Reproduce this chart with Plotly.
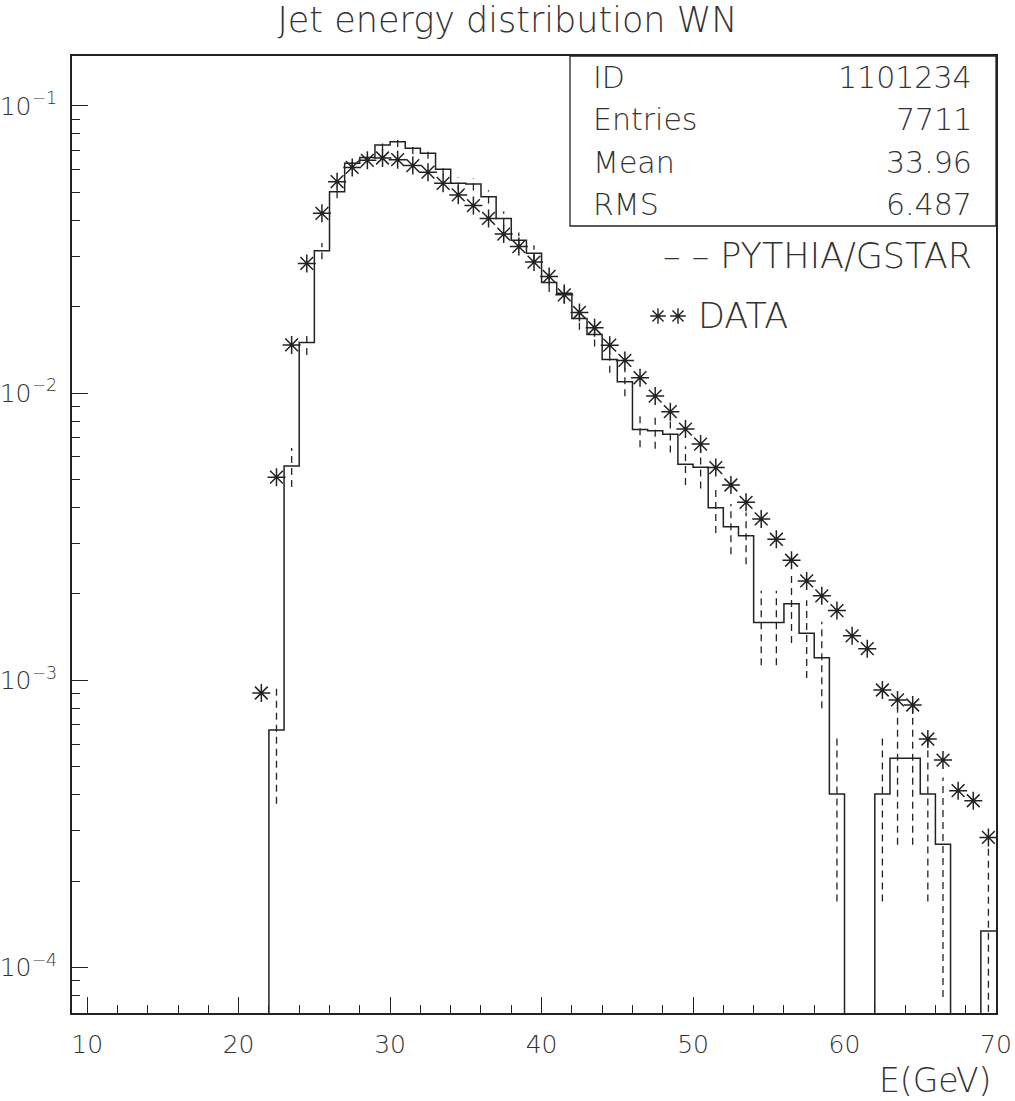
import plotly.graph_objects as go

# ---------------- data ----------------
# MC (PYTHIA/GSTAR) histogram: 1 GeV bins, low edges 22..69
mc_bin_low = list(range(22, 70))
mc_values = [
    6.72e-4, 5.58e-3, 0.0150, 0.0313, 0.0503, 0.0632, 0.0662, 0.0731,
    0.0751, 0.0712, 0.0685, 0.0602, 0.0538, 0.0535, 0.0483, 0.0406,
    0.0341, 0.0307, 0.0243, 0.0223, 0.0182, 0.0160, 0.0131, 0.01097,
    0.00748, 0.00740, 0.00720, 0.00566, 0.00552, 0.00399, 0.00343, 0.00319,
    0.00159, 0.00159, 0.00185, 0.00146, 0.00120, 0.000402, 0.0, 0.0,
    0.000402, 0.000536, 0.000536, 0.000402, 0.000269, 0.0, 0.0, 0.000134,
]
mc_errors = [
    3.0e-4, 8.65e-4, 0.00142, 0.00205, 0.00260, 0.00291, 0.00298, 0.00313,
    0.00317, 0.00309, 0.00303, 0.00284, 0.00269, 0.00268, 0.00254, 0.00233,
    0.00214, 0.00203, 0.00181, 0.00173, 0.00156, 0.00147, 0.00132, 0.00121,
    0.00100, 0.00100, 0.00098, 0.00087, 0.00086, 0.00073, 0.00068, 0.00065,
    0.00046, 0.00046, 0.00050, 0.00044, 0.00040, 0.000232, 0.0, 0.0,
    0.000232, 0.000268, 0.000268, 0.000232, 0.00019, 0.0, 0.0, 0.000134,
]

# DATA points at bin centres 21.5 .. 69.5
data_centers = [21.5 + i for i in range(49)]
data_values = [
    9.04e-4, 5.10e-3, 0.01472, 0.0283, 0.0423, 0.0545, 0.0611, 0.0647,
    0.0659, 0.0650, 0.0620, 0.0588, 0.0538, 0.0490, 0.0450, 0.0406,
    0.0358, 0.0324, 0.0286, 0.0255, 0.0220, 0.0191, 0.0169, 0.0147,
    0.0130, 0.01132, 0.00977, 0.00862, 0.00750, 0.00665, 0.00551, 0.00479,
    0.00417, 0.00365, 0.00310, 0.00262, 0.00222, 0.00197, 0.00175, 0.00143,
    0.00129, 0.000926, 0.000855, 0.000821, 0.000625, 0.000528, 0.000413, 0.000381,
    0.000284,
]

stat_labels = ["ID", "Entries", "Mean", "RMS"]
stat_values = ["1101234", "7711", "33.96", "6.487"]

title_text = "Jet energy distribution WN"
x_title = "E(GeV)"
legend_mc = "– – PYTHIA/GSTAR"
legend_data = "DATA"

x_ticks = [10, 20, 30, 40, 50, 60, 70]
y_ticks = [1e-4, 1e-3, 1e-2, 1e-1]
y_ticktext = ["10<sup>−4</sup>", "10<sup>−3</sup>", "10<sup>−2</sup>", "10<sup>−1</sup>"]

# ---------------- style ----------------
INK = "#222222"
TXT = "#333333"
FONT = "DejaVu Sans"
W, H = 1015, 1101
L, R, T, B = 72, 996, 56, 1013
FLOOR = 1e-9  # stands in for empty bins on the log axis (off-scale)


def px_x(p):
    return (p - L) / (R - L)


def px_y(p):
    return (B - p) / (B - T)


fig = go.Figure()

# MC histogram outline
hx = [mc_bin_low[0]] + mc_bin_low + [mc_bin_low[-1] + 1]
hv = [v if v > 0 else FLOOR for v in mc_values]
hy = [FLOOR] + hv + [hv[-1]]
fig.add_trace(go.Scatter(x=hx, y=hy, mode="lines", line=dict(color=INK, width=1.5, shape="hv"),
                         hoverinfo="skip", showlegend=False))

# MC error bars (dashed)
ex, ey = [], []
for lo, v, e in zip(mc_bin_low, mc_values, mc_errors):
    if v <= 0:
        continue
    c = lo + 0.5
    ex += [c, c, None]
    ey += [max(v - e, FLOOR), v + e, None]
fig.add_trace(go.Scatter(x=ex, y=ey, mode="lines", line=dict(color=INK, width=1.3, dash="7px,5px"),
                         hoverinfo="skip", showlegend=False))

star_marker = dict(symbol="asterisk-open", size=15, line=dict(color=INK, width=1.5), color=INK)

# DATA stars
fig.add_trace(go.Scatter(x=data_centers, y=data_values, mode="markers",
                         marker=star_marker, showlegend=False))

# legend key stars (on an overlay axis spanning the plot area 0..1)
fig.add_trace(go.Scatter(x=[px_x(658), px_x(678)], y=[px_y(316), px_y(316)], mode="markers",
                         marker=dict(symbol="asterisk-open", size=13,
                                     line=dict(color=INK, width=1.4), color=INK),
                         xaxis="x2", yaxis="y2", hoverinfo="skip", showlegend=False))

tickfont = dict(family=FONT, size=25, color=TXT, weight=200)

fig.update_layout(
    xaxis2=dict(overlaying="x", range=[0, 1], visible=False, fixedrange=True),
    yaxis2=dict(overlaying="y", range=[0, 1], visible=False, fixedrange=True),
)

fig.layout.xaxis.update(range=[9, 70], tickvals=x_ticks, ticks="inside", ticklen=16, tickwidth=1.3,
                        tickcolor=INK, showgrid=False, zeroline=False, showline=True, mirror=True,
                        linecolor=INK, linewidth=1.5, tickfont=tickfont, ticklabelstandoff=8,
                        automargin=False,
                        minor=dict(tick0=0, dtick=2, ticks="inside", ticklen=8, tickwidth=1.3,
                                   tickcolor=INK, showgrid=False))

minor_y = [k * 10.0 ** d for d in range(-5, 0) for k in range(2, 10)]
fig.layout.yaxis.update(type="log", range=[-4.158, -0.826], tickvals=y_ticks, ticktext=y_ticktext,
                        ticks="inside", ticklen=16, tickwidth=1.3, tickcolor=INK, showgrid=False,
                        zeroline=False, showline=True, mirror=True, linecolor=INK, linewidth=1.5,
                        tickfont=tickfont, ticklabelstandoff=8, automargin=False,
                        minor=dict(tickvals=minor_y, ticks="inside", ticklen=8, tickwidth=1.3,
                                   tickcolor=INK, showgrid=False))

# stats box
fig.add_shape(type="rect", xref="paper", yref="paper", x0=px_x(570), x1=1, y0=px_y(226), y1=1,
              line=dict(color=INK, width=1.3), fillcolor="white", layer="below")

annots = []
stat_font = dict(family=FONT, size=30, color=TXT, weight=200)
row_y = [78, 120, 163, 205]
for lab, val, yy in zip(stat_labels, stat_values, row_y):
    annots.append(dict(text=lab, x=px_x(591), y=px_y(yy), xref="paper", yref="paper",
                       xanchor="left", yanchor="middle", showarrow=False, font=stat_font))
    annots.append(dict(text=val, x=px_x(974), y=px_y(yy), xref="paper", yref="paper",
                       xanchor="right", yanchor="middle", showarrow=False, font=stat_font))

leg_font = dict(family=FONT, size=35, color=TXT, weight=200)
annots.append(dict(text=legend_mc, x=px_x(974), y=px_y(256), xref="paper", yref="paper",
                   xanchor="right", yanchor="middle", showarrow=False, font=leg_font))
annots.append(dict(text=legend_data, x=px_x(696), y=px_y(316), xref="paper", yref="paper",
                   xanchor="left", yanchor="middle", showarrow=False, font=leg_font))

annots.append(dict(text=x_title, x=px_x(994), y=px_y(1080), xref="paper", yref="paper",
                   xanchor="right", yanchor="middle", showarrow=False,
                   font=dict(family=FONT, size=33, color=TXT, weight=200)))

fig.update_layout(
    width=W, height=H,
    margin=dict(l=L, r=W - R, t=T, b=H - B, autoexpand=False),
    paper_bgcolor="white", plot_bgcolor="white",
    title=dict(text=title_text, x=0.5, xref="container", xanchor="center",
               y=1 - 20 / H, yref="container", yanchor="middle",
               font=dict(family=FONT, size=35, color=TXT, weight=200)),
    annotations=annots,
    showlegend=False,
)

fig.write_html(
    "out.html",
    config={"displayModeBar": False},
    post_script="document.body.style.margin='0';document.body.style.overflow='hidden';",
)
